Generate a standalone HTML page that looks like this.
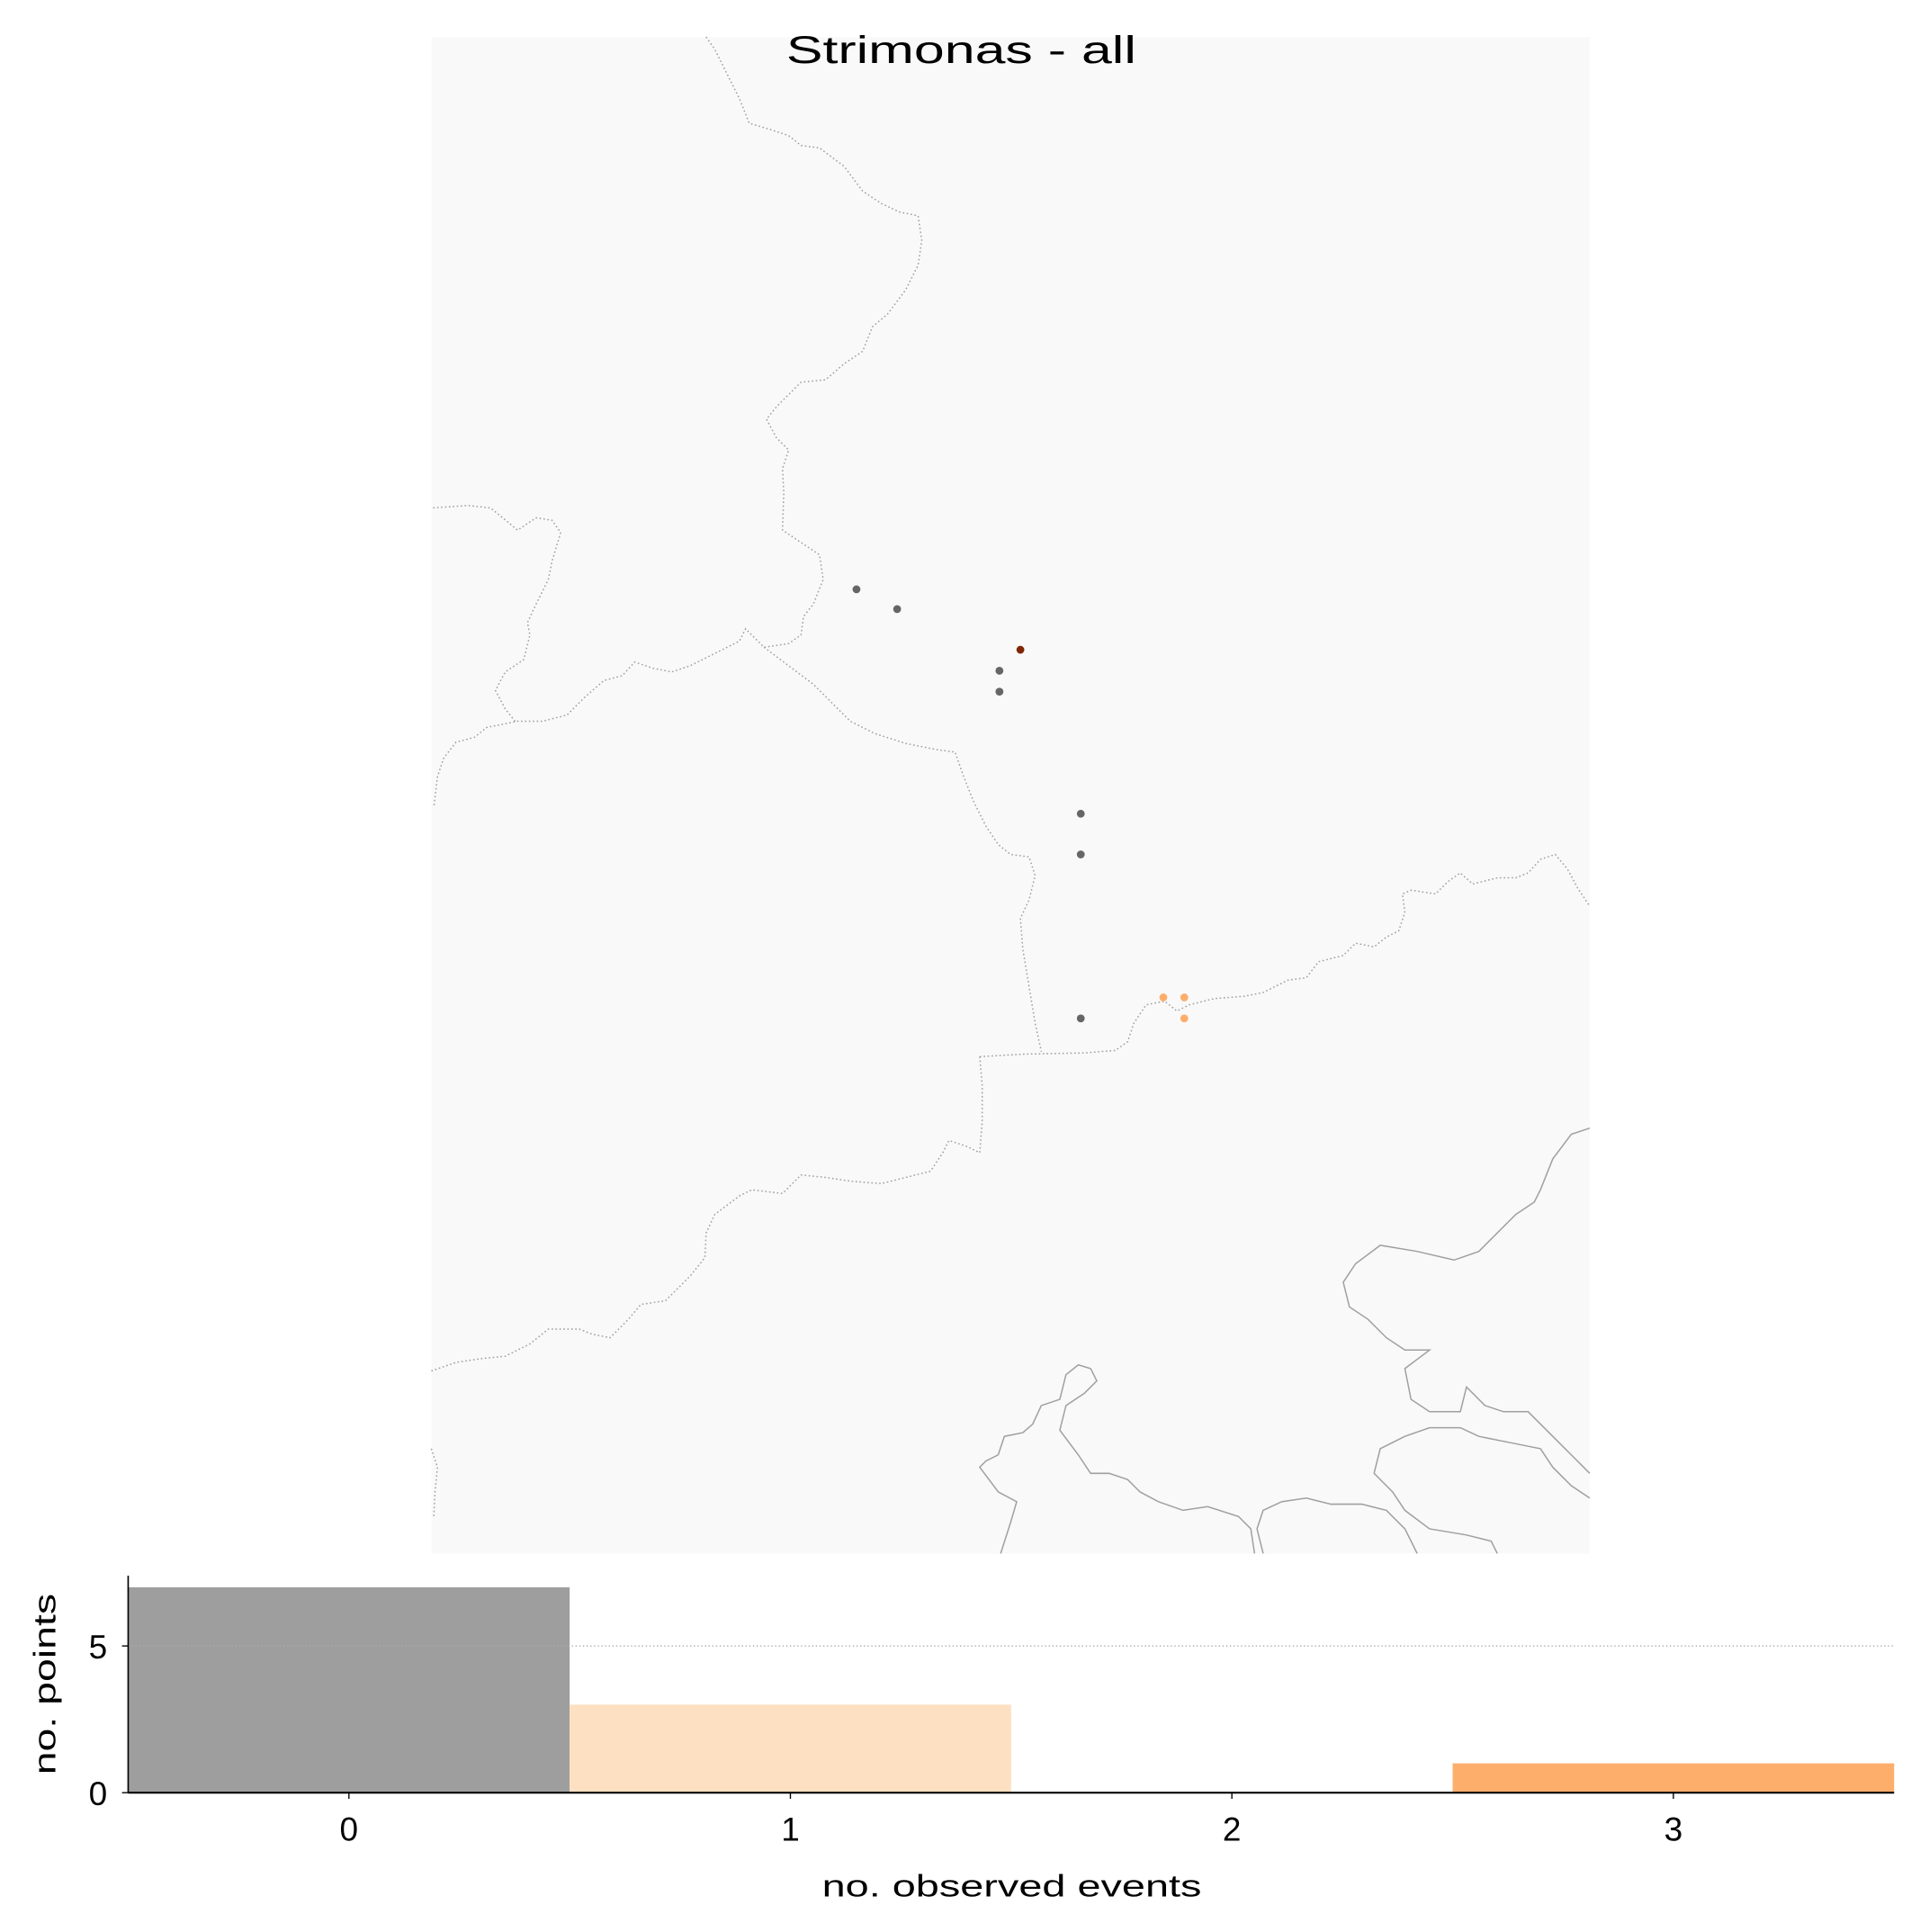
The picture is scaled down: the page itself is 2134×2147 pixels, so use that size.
<!DOCTYPE html>
<html><head><meta charset="utf-8"><style>
html,body{margin:0;padding:0;background:#fff;}
svg{display:block;}
text{font-family:"Liberation Sans","DejaVu Sans",sans-serif;fill:#000;}
</style></head><body>
<svg id="fig" width="2134" height="2147" viewBox="0 0 1558 1567" preserveAspectRatio="none" xmlns="http://www.w3.org/2000/svg">
<g id="map">
<rect x="350" y="30" width="940" height="1230" fill="#f9f9f9"/>
<g fill="none" stroke="#a0a0a0" stroke-width="1.1" stroke-dasharray="1.2,2">
<polyline points="573,30 580,40 590,60 600,80 608,100 625,105 640,110 650,118 665,120 685,135 700,155 715,165 730,172 745,175 748,195 745,215 735,235 720,255 708,265 700,285 685,295 670,308 650,310 640,320 630,330 622,340 630,355 640,365 635,380 636,400 635,430 650,440 665,450 668,470 660,490 652,500 650,515 640,522 620,525 605,510 600,520 580,530 560,540 545,545 530,542 515,537 505,548 490,552 475,565 460,580 440,585 420,585 395,590 385,598 370,602 360,615 355,630 352,655"/>
<polyline points="418,585 410,575 402,560 410,545 425,535 430,515 428,505 435,490 445,470 448,455 455,432 448,422 435,420 420,430 408,420 398,412 380,410 350,412"/>
<polyline points="620,525 640,540 660,555 675,570 690,585 710,595 735,603 760,608 775,610 782,630 790,650 800,670 810,685 820,693 835,695 840,710 835,730 828,745 830,770 835,800 840,830 845,853"/>
<polyline points="795,857 830,855 880,854 905,852 915,845 920,830 930,815 945,812 955,820 965,815 985,810 1010,808 1025,805 1035,800 1045,795 1060,793 1070,780 1090,775 1100,765 1115,768 1125,760 1135,755 1140,740 1138,725 1145,722 1165,725 1175,715 1185,708 1195,717 1215,712 1230,712 1240,708 1250,697 1262,693 1272,705 1280,720 1290,735"/>
<polyline points="795,857 797,880 797,910 795,935 785,930 770,925 765,935 755,950 735,955 715,960 690,958 670,955 650,953 635,968 610,965 600,970 580,985 573,1000 572,1020 560,1035 550,1045 540,1055 520,1058 510,1070 495,1085 480,1082 470,1078 445,1078 430,1090 410,1100 390,1102 370,1105 350,1112"/>
<polyline points="350,1175 355,1190 353,1210 352,1230"/>
</g>
<g fill="none" stroke="#a0a0a0" stroke-width="1.1">
<polyline points="1290,915 1275,920 1260,940 1250,965 1245,975 1230,985 1200,1015 1180,1022 1150,1015 1120,1010 1100,1025 1090,1040 1095,1060 1110,1070 1125,1085 1140,1095 1160,1095 1140,1110 1145,1135 1160,1145 1185,1145 1190,1125 1205,1140 1220,1145 1240,1145 1260,1165 1275,1180 1290,1195"/>
<polyline points="1290,1215 1275,1205 1260,1190 1250,1175 1225,1170 1200,1165 1185,1158 1160,1158 1140,1165 1120,1175 1115,1195 1130,1210 1140,1225 1160,1240 1190,1245 1210,1250 1215,1260"/>
<polyline points="1150,1260 1140,1240 1125,1225 1105,1220 1080,1220 1060,1215 1040,1218 1025,1225 1020,1240 1025,1260"/>
<polyline points="1018,1260 1015,1240 1005,1230 980,1222 960,1225 940,1218 925,1210 915,1200 900,1195 885,1195 875,1180 860,1160 865,1140 880,1130 890,1120 885,1110 875,1107 865,1115 860,1135 845,1140 838,1155 830,1162 815,1165 810,1180 800,1185 795,1190 810,1210 825,1218 820,1235 812,1260"/>
</g>
<g id="points"></g>
<text x="780" y="51" text-anchor="middle" font-size="31" textLength="284" lengthAdjust="spacingAndGlyphs">Strimonas - all</text>
</g>
<g id="hist"></g>
</svg>
<script>
// Map station points (in figure coordinates) and their event counts
const pointX = [695, 728, 828, 811, 811, 877, 877, 877, 944, 961, 961];
const pointY = [478, 494, 527, 544, 561, 660, 693, 826, 809, 809, 826];
const pointEvents = [0, 0, 3, 0, 0, 0, 0, 0, 1, 1, 1];
// Histogram data
const categories = [0, 1, 2, 3];
const counts = [7, 3, 0, 1];
const xTickLabels = ["0", "1", "2", "3"];
const yTicks = [0, 5];

const NS = "http://www.w3.org/2000/svg";
const colorFor = n => n === 0 ? "#666666" : (n === 1 ? "#fdae6b" : "#7f2704");
const barColorFor = n => n === 0 ? "#9e9e9e" : (n === 1 ? "#fde0c2" : "#fdae6b");

const pg = document.getElementById("points");
for (let i = 0; i < pointX.length; i++) {
  const c = document.createElementNS(NS, "circle");
  c.setAttribute("cx", pointX[i]);
  c.setAttribute("cy", pointY[i]);
  c.setAttribute("r", 3.2);
  c.setAttribute("fill", colorFor(pointEvents[i]));
  
  
  pg.appendChild(c);
}

const X0 = 104, X1 = 1537, Y0 = 1454, YTOP = 1278;
const xMin = -0.5, xMax = 3.5;
const xs = v => X0 + (v - xMin) / (xMax - xMin) * (X1 - X0);
const ys = v => Y0 - v * (Y0 - 1335) / 5;
const hg = document.getElementById("hist");
function mk(tag, attrs, text) {
  const e = document.createElementNS(NS, tag);
  for (const k in attrs) e.setAttribute(k, attrs[k]);
  if (text !== undefined) e.textContent = text;
  hg.appendChild(e);
  return e;
}
for (let i = 0; i < categories.length; i++) {
  const r = mk("rect", {x: xs(categories[i] - 0.5), y: ys(counts[i]), width: xs(categories[i] + 0.5) - xs(categories[i] - 0.5), height: Y0 - ys(counts[i]), fill: barColorFor(categories[i])});
  
  
}
const grid = mk("line", {x1: X0, x2: X1, y1: ys(5), y2: ys(5), stroke: "#aaaaaa", "stroke-width": 1, "stroke-dasharray": "1,2"});


const ya = mk("line", {x1: X0, x2: X0, y1: YTOP, y2: Y0, stroke: "#000", "stroke-width": 1.2});


const xa = mk("line", {x1: X0, x2: X1, y1: Y0, y2: Y0, stroke: "#000", "stroke-width": 1.6});


for (let i = 0; i < categories.length; i++) {
  const t = mk("line", {x1: xs(categories[i]), x2: xs(categories[i]), y1: Y0, y2: Y0 + 5, stroke: "#000", "stroke-width": 1});
  
  
  const l = mk("text", {x: xs(categories[i]), y: Y0 + 39, "text-anchor": "middle", "font-size": 27}, xTickLabels[i]);
  
  
}
for (const v of yTicks) {
  const t = mk("line", {x1: X0 - 5, x2: X0, y1: ys(v), y2: ys(v), stroke: "#000", "stroke-width": 1});
  
  
  const l = mk("text", {x: X0 - 17, y: ys(v) + 10, "text-anchor": "end", "font-size": 27}, String(v));
  
  
}
const xt = mk("text", {x: 821, y: 1538, "text-anchor": "middle", "font-size": 25, textLength: 308, lengthAdjust: "spacingAndGlyphs"}, "no. observed events");


const yt = mk("text", {x: 0, y: 0, "text-anchor": "middle", "font-size": 25, textLength: 147, lengthAdjust: "spacingAndGlyphs", transform: "translate(45,1366) rotate(-90)"}, "no. points");


</script>
</body></html>
